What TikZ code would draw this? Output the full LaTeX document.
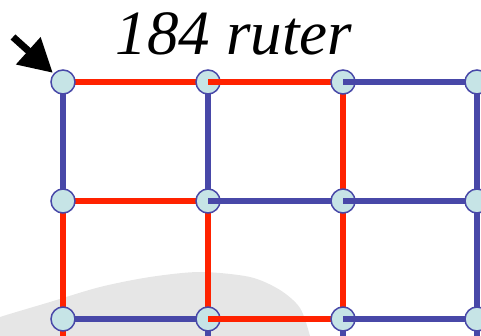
\documentclass[tikz,border=0pt]{standalone}
\usepackage{fontspec}
\setmainfont{Liberation Serif}
\usetikzlibrary{arrows.meta}
\definecolor{redE}{HTML}{FF2200}
\definecolor{blueE}{HTML}{4848A8}
\definecolor{nodefill}{HTML}{C6E4E6}
\definecolor{ellgrey}{HTML}{E6E6E6}
\pgfdeclarelayer{ell}
\pgfdeclarelayer{eA}
\pgfdeclarelayer{nA}
\pgfdeclarelayer{eB}
\pgfdeclarelayer{nB}
\pgfdeclarelayer{eC}
\pgfsetlayers{ell,eA,nA,eB,nB,eC,main}
\tikzset{
  router/.style={circle,draw=blueE,fill=nodefill,line width=1.5pt,minimum size=24pt,inner sep=0pt},
  redlink/.style={draw=redE,line width=6pt},
  bluelink/.style={draw=blueE,line width=6pt},
  bigarrow/.style={draw=black,line width=7pt,shorten >=1pt,-{Triangle[length=33pt,width=35pt]}},
  title/.style={font=\fontsize{63}{63}\selectfont\itshape,inner sep=0pt,anchor=base}
}
\begin{document}
\begin{tikzpicture}[x=1pt,y=-1pt]
\useasboundingbox (0,0) rectangle (481,336);
\clip (0,0) rectangle (481,336);
\begin{pgfonlayer}{ell}
\fill[ellgrey] plot[smooth] coordinates {(-20,325) (0,317) (50,302) (100,287) (150,277) (200,272) (250,277) (280,290) (300,308) (310,336) (312,350)} -- (-20,350) -- cycle;
\end{pgfonlayer}
% nodes
\begin{pgfonlayer}{nA}
\node[router] (n11) at (63,82) {};
\node[router] (n21) at (63,201) {};
\node[router] (n31) at (63,319) {};
\node[router] (n12) at (208,82) {};
\node[router] (n22) at (208,201) {};
\node[router] (n32) at (208,319) {};
\end{pgfonlayer}
\begin{pgfonlayer}{nB}
\node[router] (n13) at (343,82) {};
\node[router] (n23) at (343,201) {};
\node[router] (n33) at (343,319) {};
\end{pgfonlayer}
\node[router] (n14) at (477,82) {};
\node[router] (n24) at (477,201) {};
\node[router] (n34) at (477,319) {};
\coordinate (b1) at (63,350);
\coordinate (b2) at (208,350);
\coordinate (b3) at (343,350);
\coordinate (b4) at (477,350);
% links under all nodes
\begin{pgfonlayer}{eA}
\draw[redlink] (n11.center) -- (n12.center);
\draw[redlink] (n21.center) -- (n22.center);
\draw[bluelink] (n31.center) -- (n32.center);
\draw[bluelink] (n11.center) -- (n21.center);
\draw[redlink] (n21.center) -- (n31.center);
\draw[redlink] (n31.center) -- (b1);
\draw[bluelink] (n12.center) -- (n22.center);
\draw[redlink] (n22.center) -- (n32.center);
\draw[bluelink] (n32.center) -- (b2);
\draw[redlink] (n13.center) -- (n23.center);
\draw[redlink] (n23.center) -- (n33.center);
\draw[bluelink] (n33.center) -- (b3);
\draw[bluelink] (n14.center) -- (n24.center);
\draw[bluelink] (n24.center) -- (n34.center);
\draw[bluelink] (n34.center) -- (b4);
\end{pgfonlayer}
\begin{pgfonlayer}{eB}
\draw[redlink] (n12.center) -- (n13.center);
\draw[bluelink] (n22.center) -- (n23.center);
\draw[redlink] (n32.center) -- (n33.center);
\end{pgfonlayer}
\begin{pgfonlayer}{eC}
\draw[bluelink] (n13.center) -- (n14.center);
\draw[bluelink] (n23.center) -- (n24.center);
\draw[bluelink] (n33.center) -- (n34.center);
\end{pgfonlayer}
% arrow and title
\coordinate (tail) at (13,37);
\draw[bigarrow] (tail) -- (n11);
\node[title] (lbl) at (234,55) {184 ruter};
\end{tikzpicture}
\end{document}
